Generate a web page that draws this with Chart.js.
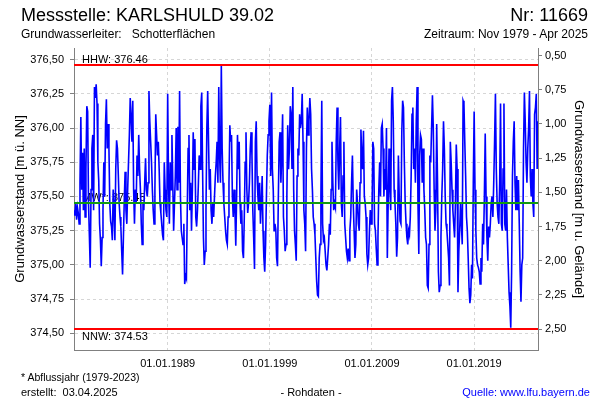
<!DOCTYPE html>
<html lang="de">
<head>
<meta charset="utf-8">
<title>Messstelle KARLSHULD 39.02</title>
<script src="https://cdn.jsdelivr.net/npm/chart.js@4.4.1/dist/chart.umd.min.js"></script>
<style>
  html, body { margin: 0; padding: 0; background: #fff; }
  #page { position: relative; width: 600px; height: 400px; font-family: 'Liberation Sans', Arial, sans-serif; color: #000; }
  #page canvas { position: absolute; left: 0; top: 0; }
  .txt { position: absolute; white-space: pre; line-height: 1; }
</style>
</head>
<body>
<div id="page">
  <canvas id="chart" width="600" height="400"></canvas>
  <div class="txt" style="left:21px; top:6px; font-size:18px;">Messstelle: KARLSHULD 39.02</div>
  <div class="txt" style="right:12px; top:6px; font-size:18px;">Nr: 11669</div>
  <div class="txt" style="left:21px; top:28px; font-size:12px;">Grundwasserleiter:   Schotterflächen</div>
  <div class="txt" style="right:12px; top:28px; font-size:12px;">Zeitraum: Nov 1979 - Apr 2025</div>
  <div class="txt" style="left:21px; top:372px; font-size:10.5px;">* Abflussjahr (1979-2023)</div>
  <div class="txt" style="left:21px; top:387px; font-size:11px;">erstellt:  03.04.2025</div>
  <div class="txt" style="left:311px; top:387px; font-size:11px; transform:translateX(-50%);">- Rohdaten -</div>
  <div class="txt" style="right:10px; top:387px; font-size:11px; color:#0000ff;">Quelle: www.lfu.bayern.de</div>
</div>
<script>
// monthly groundwater level readings [m ü. NN], starting Nov 1979
const firstYear = 1979;
const firstMonth = 11;
const levels = [
  375.40, 375.36,
  375.45, 375.33, 375.42, 375.38, 375.30, 375.60, 376.08, 375.55, 375.82, 375.40, 375.85, 375.35, // 1980
  375.70, 376.16, 376.12, 375.45, 375.22, 374.98, 375.55, 375.85, 375.95, 375.40, 376.30, 376.22,
  376.32, 376.18, 375.75, 375.62, 375.30, 375.18, 374.99, 375.20, 375.40, 375.75, 375.50, 376.03,
  376.21, 375.85, 376.03, 375.85, 375.45, 375.32, 375.28, 375.18, 375.55, 375.40, 375.18, 375.70,
  375.91, 375.85, 375.66, 375.45, 375.35, 375.28, 375.10, 374.93, 375.20, 375.47, 375.68, 375.40,
  375.30, 375.55, 375.75, 375.95, 376.22, 376.08, 375.90, 376.20, 375.55, 375.30, 375.55, 375.45, // 1985
  375.80, 375.65, 375.95, 375.70, 375.55, 375.30, 375.15, 375.45, 375.40, 375.60, 375.78, 375.55,
  375.50, 375.60, 376.27, 376.05, 375.90, 375.75, 375.55, 375.40, 375.30, 375.55, 376.10, 375.95,
  375.80, 375.90, 375.70, 375.45, 375.38, 375.30, 375.22, 375.18, 375.75, 375.55, 375.40, 375.35,
  376.25, 375.60, 375.30, 375.75, 375.55, 375.95, 375.60, 375.25, 375.45, 375.65, 376.00, 375.55,
  376.01, 375.60, 376.27, 375.50, 375.25, 375.20, 375.15, 375.30, 374.86, 374.92, 374.90, 375.40, // 1990
  375.85, 375.95, 375.40, 375.60, 375.25, 375.55, 375.97, 375.70, 375.92, 375.35, 375.28, 375.40,
  375.58, 375.80, 375.70, 376.16, 376.26, 375.70, 375.20, 375.00, 375.10, 375.40, 376.00, 376.27,
  375.90, 375.55, 375.70, 375.40, 375.30, 375.45, 375.35, 375.50, 375.65, 375.75, 375.90, 375.60,
  376.30, 375.80, 375.60, 376.46, 375.85, 375.60, 375.45, 375.35, 375.25, 375.18, 375.15, 375.35,
  375.60, 376.02, 375.90, 375.95, 375.50, 375.35, 375.55, 375.40, 375.14, 375.50, 375.95, 375.70, // 1995
  375.90, 375.45, 375.30, 375.40, 375.10, 375.05, 375.35, 375.75, 375.97, 375.55, 375.38, 375.45,
  375.60, 375.85, 375.97, 375.80, 375.40, 375.20, 374.97, 375.90, 376.05, 375.65, 375.50, 375.40,
  375.60, 375.30, 375.45, 375.65, 375.25, 375.05, 374.95, 375.15, 375.50, 375.80, 375.95, 376.05,
  376.17, 375.65, 376.26, 375.70, 375.55, 375.25, 375.30, 375.26, 375.05, 374.99, 375.50, 375.90,
  375.97, 375.60, 375.80, 376.10, 375.35, 375.25, 375.10, 375.15, 375.50, 376.02, 375.70, 375.85, // 2000
  376.16, 376.10, 375.70, 376.30, 375.55, 375.25, 375.15, 375.03, 375.65, 375.85, 375.80, 376.10,
  376.00, 376.05, 376.25, 375.90, 375.40, 375.30, 375.10, 375.85, 376.15, 375.95, 376.05, 376.22,
  376.10, 375.70, 375.55, 375.35, 375.30, 375.22, 375.05, 374.88, 374.78, 374.77, 375.05, 375.15,
  375.50, 376.20, 375.30, 375.18, 375.20, 375.10, 375.00, 374.96, 375.05, 375.15, 375.30, 375.22,
  375.55, 375.90, 375.60, 375.40, 375.45, 375.42, 375.90, 376.15, 375.75, 375.55, 375.85, 376.08, // 2005
  375.45, 375.35, 375.65, 375.90, 375.30, 375.20, 375.10, 375.05, 375.12, 375.03, 375.25, 375.35,
  375.60, 375.80, 375.45, 375.25, 375.05, 375.15, 375.55, 375.45, 375.30, 375.25, 375.60, 375.99,
  375.80, 375.70, 375.98, 375.50, 375.45, 375.35, 375.08, 375.00, 375.05, 375.25, 375.40, 375.30,
  375.35, 375.90, 375.85, 375.30, 375.25, 375.12, 375.00, 375.20, 375.55, 375.75, 375.50, 376.00,
  376.03, 375.85, 375.50, 375.70, 375.55, 376.00, 375.05, 375.45, 375.85, 375.55, 375.40, 376.20, // 2010
  376.30, 376.05, 375.55, 375.45, 375.30, 375.06, 375.20, 375.80, 375.50, 375.32, 375.30, 375.97,
  376.20, 376.15, 375.75, 375.45, 375.30, 375.20, 375.15, 375.25, 375.22, 375.35, 375.65, 376.10,
  376.15, 375.70, 375.85, 375.60, 376.05, 376.30, 375.45, 375.08, 375.80, 375.95, 375.92, 375.60,
  375.85, 375.55, 375.40, 375.20, 375.15, 374.85, 374.83, 375.15, 375.80, 375.75, 376.00, 376.24,
  376.00, 375.55, 375.25, 375.40, 376.03, 375.60, 374.95, 374.80, 374.85, 375.20, 375.50, 375.70, // 2015
  376.05, 375.85, 375.50, 375.30, 375.25, 375.15, 375.05, 374.85, 375.90, 375.75, 375.55, 375.40,
  375.30, 375.20, 375.45, 375.88, 375.70, 374.80, 375.10, 375.25, 375.45, 375.30, 375.15, 376.20,
  376.18, 375.90, 375.65, 375.35, 375.25, 375.05, 374.83, 374.72, 374.78, 375.00, 374.90, 375.60,
  376.12, 375.55, 375.25, 375.05, 375.00, 374.98, 374.95, 374.86, 375.05, 374.95, 375.30, 375.15,
  375.50, 375.96, 375.50, 375.20, 375.03, 375.28, 375.20, 375.30, 375.45, 375.50, 375.35, 375.60, // 2020
  375.90, 376.25, 375.70, 375.45, 375.35, 375.30, 375.60, 376.18, 375.30, 375.25, 375.70, 376.18,
  375.30, 375.25, 375.55, 375.20, 375.00, 374.80, 374.70, 374.54, 374.95, 375.65, 375.90, 376.05,
  375.60, 375.40, 375.65, 375.40, 375.62, 375.30, 374.95, 374.73, 375.00, 375.05, 375.85, 376.26,
  376.05, 375.75, 375.60, 375.85, 376.00, 376.27, 375.65, 375.50, 375.70, 375.45, 375.35, 376.10,
  376.15, 376.25, 375.70, 376.05 // 2025
];

const xTickYears = [1989, 1999, 2009, 2019];
const levelTicks = [374.50, 374.75, 375.00, 375.25, 375.50, 375.75, 376.00, 376.25, 376.50];
const depthTicks = [0.50, 0.75, 1.00, 1.25, 1.50, 1.75, 2.00, 2.25, 2.50];

const groundLevel = 377.03;
const hhw = 376.46;
const mw = 375.45;
const nnw = 374.53;

const levelMin = 374.378;
const levelMax = 376.585;

const points = levels.map((v, i) => ({ x: firstYear + (firstMonth - 1 + i) / 12, y: v }));
const fmt = v => v.toFixed(2).replace('.', ',');

Chart.defaults.font.family = "'Liberation Sans', Arial, sans-serif";
Chart.defaults.color = '#000';

// HHW / MW / NNW reference lines with their labels
const refLines = {
    id: 'refLines',
    beforeDatasetsDraw(chart) {
        const { ctx, chartArea, scales: { y } } = chart;
        ctx.save();
        ctx.font = "11px 'Liberation Sans', Arial, sans-serif";
        ctx.fillStyle = '#000';
        ctx.textBaseline = 'alphabetic';
        const x = chartArea.left + 8;
        ctx.fillText('HHW: ' + hhw.toFixed(2), x, y.getPixelForValue(hhw) - 2);
        ctx.fillText('MW*: ' + mw.toFixed(2), x, y.getPixelForValue(mw) - 2);
        ctx.fillText('NNW: ' + nnw.toFixed(2), x, y.getPixelForValue(nnw) + 11);
        ctx.restore();
    },
    afterDatasetsDraw(chart) {
        const { ctx, chartArea, scales: { y } } = chart;
        const line = (v, color) => {
            const py = Math.round(y.getPixelForValue(v));
            ctx.strokeStyle = color;
            ctx.lineWidth = 2;
            ctx.beginPath();
            ctx.moveTo(chartArea.left, py);
            ctx.lineTo(chartArea.right, py);
            ctx.stroke();
        };
        ctx.save();
        line(hhw, '#ff0000');
        line(nnw, '#ff0000');
        line(mw, '#129a12');
        ctx.restore();
    }
};

const gridColor = '#d6d6d6';
const axisColor = '#808080';

new Chart(document.getElementById('chart'), {
    type: 'line',
    data: {
        datasets: [{
            data: points,
            borderColor: '#0000ff',
            borderWidth: 1.6,
            pointRadius: 0,
            tension: 0,
            fill: false
        }]
    },
    options: {
        responsive: false,
        animation: false,
        layout: { padding: { top: 48, left: 0, right: 0, bottom: 0 } },
        plugins: { legend: { display: false }, tooltip: { enabled: false } },
        scales: {
            x: {
                type: 'linear',
                min: 1979.83,
                max: 2025.25,
                afterBuildTicks: s => { s.ticks = xTickYears.map(v => ({ value: v })); },
                afterFit: s => { s.height = 50; },
                grid: { color: gridColor, drawTicks: false },
                border: { color: axisColor, width: 1, dash: [3, 3] },
                ticks: { font: { size: 11 }, padding: 7, maxRotation: 0, autoSkip: false, callback: v => '01.01.' + v }
            },
            y: {
                position: 'left',
                min: levelMin,
                max: levelMax,
                afterBuildTicks: s => { s.ticks = levelTicks.map(v => ({ value: v })); },
                afterFit: s => { s.width = 74; },
                title: { display: true, text: 'Grundwasserstand [m ü. NN]', font: { size: 13 }, padding: { top: 13, bottom: 0 } },
                grid: { color: gridColor, tickColor: axisColor, tickLength: 4 },
                border: { color: axisColor, width: 1, dash: [3, 3] },
                ticks: { font: { size: 11 }, padding: 6, callback: v => fmt(v) }
            },
            y2: {
                position: 'right',
                reverse: true,
                min: groundLevel - levelMax,
                max: groundLevel - levelMin,
                afterBuildTicks: s => { s.ticks = depthTicks.map(v => ({ value: v })); },
                afterFit: s => { s.width = 62; },
                title: { display: true, text: 'Grundwasserstand [m u. Gelände]', font: { size: 13 }, padding: { top: 14, bottom: 0 } },
                grid: { drawOnChartArea: false, tickColor: axisColor, tickLength: 4 },
                border: { color: axisColor, width: 1 },
                ticks: { font: { size: 11 }, padding: 3, callback: v => fmt(v) }
            }
        }
    },
    plugins: [refLines]
});
</script>
</body>
</html>
